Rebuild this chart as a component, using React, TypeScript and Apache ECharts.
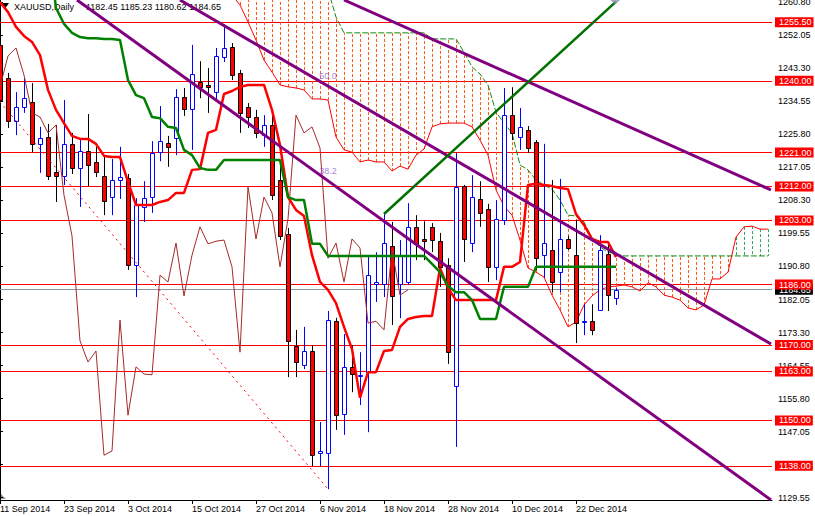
import React, { useEffect, useRef } from "react";
import * as echarts from "echarts";

const FONT = "'Liberation Sans', Arial, sans-serif";

// Daily XAUUSD bars, index 0 = 11 Sep 2014 ... index 77 = 30 Dec 2014
const opens = [
  1249.5, 1240.7, 1229.4, 1233.1, 1234.4, 1223.3, 1225.1, 1215.8, 1214.8, 1223.3,
  1216.9, 1221.4, 1218.5, 1214.8, 1209.2, 1213.7, 1214.2, 1191.2, 1206.6, 1209.2,
  1221.1, 1223.5, 1224.8, 1235.7, 1232.5, 1239.7, 1238.9, 1237.0, 1246.3, 1249.0,
  1242.1, 1233.1, 1230.4, 1225.6, 1228.3, 1213.7, 1199.4, 1169.7, 1164.7, 1168.4,
  1141.4, 1141.4, 1176.4, 1151.7, 1164.2, 1161.8, 1162.8, 1186.2, 1186.2, 1196.2,
  1186.2, 1186.7, 1201.3, 1198.1, 1201.3, 1197.5, 1191.2, 1159.1, 1212.1, 1197.0,
  1208.7, 1206.0, 1190.7, 1203.1, 1230.9, 1225.1, 1227.0, 1223.8, 1193.8, 1195.2,
  1189.3, 1198.1, 1193.8, 1176.1, 1176.4, 1179.3, 1194.1, 1182.45,
];
const highs = [
  1250.8, 1242.1, 1237.0, 1240.7, 1239.4, 1227.8, 1228.6, 1228.3, 1234.9, 1226.2,
  1224.6, 1231.2, 1222.5, 1219.8, 1219.3, 1222.5, 1215.3, 1208.9, 1213.4, 1224.0,
  1233.3, 1225.4, 1237.8, 1238.1, 1249.5, 1245.2, 1243.4, 1248.7, 1255.0, 1250.0,
  1242.9, 1234.1, 1232.3, 1230.9, 1230.9, 1217.7, 1201.0, 1174.0, 1174.8, 1170.0,
  1149.6, 1179.0, 1177.2, 1172.9, 1170.0, 1168.1, 1193.8, 1194.6, 1205.0, 1202.6,
  1197.8, 1207.6, 1204.4, 1202.8, 1202.3, 1199.7, 1193.0, 1220.9, 1212.4, 1215.0,
  1213.4, 1207.4, 1208.4, 1238.1, 1238.3, 1232.8, 1228.0, 1224.3, 1223.3, 1213.7,
  1214.0, 1198.9, 1203.1, 1180.8, 1180.8, 1199.1, 1197.3, 1185.23,
];
const lows = [
  1233.6, 1227.5, 1225.6, 1231.5, 1221.1, 1215.6, 1213.7, 1207.9, 1212.4, 1215.3,
  1206.6, 1212.1, 1214.5, 1204.4, 1204.4, 1208.7, 1189.9, 1182.7, 1202.6, 1205.0,
  1218.7, 1217.2, 1220.3, 1230.7, 1221.7, 1235.4, 1231.5, 1234.9, 1245.0, 1240.2,
  1226.2, 1227.5, 1224.8, 1222.5, 1208.4, 1197.8, 1161.5, 1161.5, 1163.6, 1137.9,
  1137.9, 1131.8, 1147.5, 1146.2, 1157.5, 1154.1, 1146.9, 1181.4, 1182.7, 1175.3,
  1177.1, 1185.9, 1192.5, 1192.5, 1194.6, 1185.4, 1165.0, 1143.0, 1192.0, 1194.6,
  1201.3, 1186.7, 1187.2, 1201.8, 1224.3, 1221.7, 1220.9, 1189.9, 1187.8, 1184.0,
  1184.0, 1195.2, 1170.5, 1172.6, 1172.6, 1179.0, 1179.0, 1180.62,
];
const closes = [
  1234.9, 1229.4, 1233.1, 1235.4, 1223.3, 1224.8, 1214.8, 1214.8, 1223.3, 1216.9,
  1221.4, 1217.7, 1215.8, 1208.2, 1213.7, 1214.5, 1191.2, 1207.1, 1208.9, 1220.9,
  1224.0, 1222.5, 1235.7, 1232.5, 1241.8, 1238.4, 1238.4, 1246.6, 1248.7, 1241.5,
  1231.5, 1230.4, 1226.2, 1228.3, 1209.7, 1198.9, 1171.1, 1165.5, 1168.4, 1140.8,
  1141.9, 1176.6, 1151.4, 1164.2, 1162.3, 1162.1, 1188.5, 1186.7, 1197.0, 1183.0,
  1193.8, 1201.3, 1196.8, 1197.5, 1197.8, 1190.7, 1168.1, 1211.9, 1198.1, 1209.2,
  1205.0, 1190.7, 1203.4, 1230.9, 1226.2, 1227.8, 1222.2, 1193.0, 1197.0, 1186.7,
  1198.1, 1195.7, 1175.8, 1176.3, 1174.0, 1195.2, 1183.2, 1184.65,
];

// Ichimoku lines
const tenkan = [
  1260.9, 1258.2, 1254.3, 1251.9, 1250.3, 1246.8, 1237.6, 1232.3, 1228.8, 1225.4,
  1224.6, 1224.6, 1223.3, 1220.1, 1219.8, 1219.8, 1213.2, 1207.1, 1207.1, 1207.1,
  1207.9, 1208.4, 1210.3, 1210.3, 1216.4, 1216.6, 1226.2, 1227.0, 1236.5, 1237.3,
  1238.4, 1238.9, 1238.9, 1238.9, 1232.3, 1223.0, 1209.2, 1205.8, 1204.2, 1193.8,
  1186.7, 1184.6, 1181.1, 1174.8, 1168.9, 1156.0, 1162.8, 1162.8, 1168.4, 1168.7,
  1174.8, 1176.9, 1177.4, 1177.7, 1177.7, 1190.4, 1185.1, 1181.9, 1181.9, 1181.9,
  1181.9, 1181.9, 1181.9, 1190.7, 1190.7, 1192.0, 1212.4, 1212.7, 1212.4, 1212.1,
  1211.6, 1211.3, 1204.7, 1201.8, 1198.1, 1197.3, 1197.3, 1193.3,
];
const kijun = [
  1279, 1279, 1279, 1279, 1279, 1279, 1276, 1259.3, 1255.1, 1252.7,
  1251.6, 1251.3, 1251.3, 1251.1, 1251.1, 1250.8, 1240.2, 1236.2, 1235.4, 1230.4,
  1230.1, 1227.8, 1227.5, 1221.7, 1220.3, 1216.9, 1216.4, 1216.4, 1219.0, 1219.0,
  1219.0, 1219.0, 1219.0, 1219.0, 1219.0, 1219.0, 1209.2, 1208.4, 1208.4, 1196.8,
  1196.8, 1193.6, 1193.6, 1193.6, 1193.6, 1193.6, 1193.6, 1193.6, 1193.6, 1193.6,
  1193.6, 1193.6, 1193.6, 1193.6, 1191.5, 1189.3, 1185.6, 1184.0, 1184.0, 1181.9,
  1176.9, 1176.9, 1176.9, 1185.4, 1185.4, 1185.4, 1185.4, 1190.7, 1190.7, 1190.7,
  1190.7, 1190.7, 1190.7, 1190.7, 1190.7, 1190.7, 1190.7, 1190.7,
];
const chikouShift = 26;
const spanStart = 29; // first bar index of the spans below
const spanA = [
  1262.7, 1260.1, 1255.6, 1250.8, 1245.5, 1242.3, 1238.9, 1238.4, 1238.1, 1237.6,
  1235.2, 1235.2, 1234.9, 1225.1, 1221.7, 1221.1, 1218.5, 1219.0, 1218.5, 1218.5,
  1216.1, 1217.4, 1216.6, 1220.3, 1221.9, 1227.8, 1228.6, 1228.8, 1228.8, 1228.8,
  1227.8, 1224.3, 1220.3, 1211.1, 1206.8, 1204.4, 1197.8, 1190.4, 1189.3, 1188.0,
  1183.2, 1179.3, 1174.8, 1176.1, 1180.6, 1183.0, 1184.6, 1185.4, 1185.6, 1185.9,
  1185.4, 1184.3, 1186.5, 1185.4, 1183.2, 1182.7, 1181.9, 1179.8, 1179.3, 1180.6,
  1187.5, 1187.5, 1189.3, 1198.6, 1201.3, 1201.5, 1200.7, 1200.7,
];
const spanB = [
  1270, 1270, 1270, 1270, 1270, 1270, 1270, 1270, 1270, 1270,
  1270, 1270, 1264.1, 1256.9, 1252.7, 1252.7, 1252.7, 1252.7, 1252.7, 1252.7,
  1252.7, 1252.7, 1252.7, 1252.7, 1252.7, 1251.1, 1251.1, 1251.1, 1251.1, 1247.6,
  1243.7, 1241.8, 1238.9, 1231.7, 1228.8, 1226.2, 1217.7, 1216.4, 1213.7, 1212.4,
  1211.3, 1208.4, 1204.4, 1204.2, 1202.6, 1198.4, 1196.0, 1194.6, 1194.1, 1193.6,
  1193.6, 1193.6, 1193.6, 1193.6, 1193.6, 1193.6, 1193.6, 1193.6, 1193.6, 1193.6,
  1193.6, 1193.6, 1193.6, 1193.6, 1193.6, 1193.6, 1193.6, 1193.6,
];

// Horizontal levels and price line
const levels = [1255.5, 1240.0, 1221.0, 1212.0, 1203.0, 1186.0, 1170.0, 1163.0, 1150.0, 1138.0];
const bidPrice = 1184.65;

// Axis ticks
const yTicks = [
  1260.8, 1252.05, 1243.3, 1234.55, 1225.8, 1217.05, 1208.3, 1199.55,
  1190.8, 1182.05, 1173.3, 1164.55, 1155.8, 1147.05, 1138.3, 1129.55,
];
const xTickIdx = [0, 8, 16, 24, 32, 40, 48, 56, 64, 72];
const xTickLabels = [
  "11 Sep 2014", "23 Sep 2014", "3 Oct 2014", "15 Oct 2014", "27 Oct 2014",
  "6 Nov 2014", "18 Nov 2014", "28 Nov 2014", "10 Dec 2014", "22 Dec 2014",
];

// Drawn objects: [barIndex, price] endpoints
const purpleLines = [
  [[9.625, 1261.41], [96.375, 1128.93]],
  [[22.5, 1261.41], [96.375, 1170.26]],
  [[43, 1261.41], [96.375, 1211.07]],
];
const greenLine = [[48, 1204.7], [77, 1261.0]];
const fibLine = [[-1, 1236.9], [41, 1131.84]];
const fibLabels = [[41, 1239.6, "50.0"], [41, 1214.4, "38.2"]];
const headerSymbol = "XAUUSD,Daily";
const headerOHLC = "1182.45 1185.23 1180.62 1184.65";

export default function App() {
  const ref = useRef<HTMLDivElement>(null);
  useEffect(() => {
    document.body.style.margin = "0";
    const chart = echarts.init(ref.current as HTMLDivElement, undefined, { renderer: "svg" });

    const candleData = opens.map((o, k) => [k, o, closes[k], lows[k], highs[k]]);
    const chikou = closes.slice(chikouShift).map((c, k) => [k, c]);
    const cloudData = spanA.map((a, i) => [spanStart + i, a, spanB[i]]);
    const spanAData = spanA.map((a, i) => [spanStart + i, a]);
    const spanBData = spanB.map((b, i) => [spanStart + i, b]);

    const lbl = (bg: string) => ({
      show: true,
      position: "end",
      distance: 3,
      backgroundColor: bg,
      color: "#ffffff",
      fontSize: 9,
      fontFamily: FONT,
      padding: [1, 2, 0, 4],
      lineHeight: 9,
    });

    const markData: any[] = [
      {
        yAxis: bidPrice,
        lineStyle: { color: "#8a97a6", width: 1, type: "solid" },
        label: { ...lbl("#000000"), formatter: bidPrice.toFixed(2) },
      },
      ...levels.map((v) => ({
        yAxis: v,
        lineStyle: { color: "#ff0000", width: 1, type: "solid" },
        label: { ...lbl("#ff0000"), formatter: v.toFixed(2) },
      })),
    ];

    const lineSeries = (data: any, color: string, width: number, z: number, type: any = "solid") => ({
      type: "line",
      data,
      symbol: "none",
      silent: true,
      z,
      clip: true,
      lineStyle: { color, width, type },
    });

    const option: any = {
      animation: false,
      backgroundColor: "#ffffff",
      textStyle: { fontFamily: FONT },
      grid: { left: 0, top: 0, width: 772, height: 500, outerBoundsMode: "none" },
      xAxis: {
        type: "value",
        min: 0,
        max: 96.5,
        axisLine: { show: true, lineStyle: { color: "#000000", width: 1 } },
        axisTick: { show: true, customValues: xTickIdx, length: 4, lineStyle: { color: "#000000" } },
        axisLabel: {
          customValues: xTickIdx,
          formatter: (v: number) => xTickLabels[xTickIdx.indexOf(Math.round(v))] || "",
          align: "left",
          margin: 4,
          fontSize: 9,
          fontFamily: FONT,
          color: "#000000",
        },
        splitLine: { show: false },
      },
      yAxis: {
        type: "value",
        position: "right",
        min: 1128.93,
        max: 1261.41,
        axisLine: { show: true, lineStyle: { color: "#000000", width: 1 } },
        axisTick: { show: true, customValues: yTicks, length: 3, lineStyle: { color: "#000000" } },
        axisLabel: {
          customValues: yTicks,
          formatter: (v: number) => v.toFixed(2),
          margin: 6,
          fontSize: 9,
          fontFamily: FONT,
          color: "#000000",
        },
        splitLine: { show: false },
      },
      graphic: [
        { type: "polygon", shape: { points: [[2, 3], [9, 3], [5.5, 8]] }, style: { fill: "#000000" } },
        { type: "text", x: 14, y: 7, style: { text: headerSymbol, fontSize: 9, fontFamily: FONT, fill: "#000000", verticalAlign: "middle" } },
        { type: "text", x: 86, y: 7, style: { text: headerOHLC, fontSize: 9, fontFamily: FONT, fill: "#000000", verticalAlign: "middle" } },
        { type: "polygon", shape: { points: [[0, 493], [6, 499], [0, 499]] }, style: { fill: "#8a97a6" } },
      ],
      series: [
        {
          type: "line",
          data: [],
          silent: true,
          clip: false,
          markLine: {
            silent: true,
            z: 1,
            symbol: ["none", "none"],
            data: markData,
          },
        },
        {
          type: "custom",
          data: cloudData,
          clip: true,
          silent: true,
          z: 2,
          encode: { x: 0, y: [1, 2] },
          renderItem: (_p: any, api: any) => {
            const k = api.value(0);
            const a = api.value(1);
            const b = api.value(2);
            const pa = api.coord([k, a]);
            const pb = api.coord([k, b]);
            const x = Math.round(pa[0]) + 0.5;
            return {
              type: "line",
              shape: { x1: x, y1: pa[1], x2: x, y2: pb[1] },
              style: { stroke: a < b ? "#ff5a14" : "#2ea85a", lineWidth: 1, lineDash: [3, 2] },
            };
          },
        },
        lineSeries(spanAData, "#ff0000", 1, 3),
        lineSeries(spanBData, "#118a11", 1, 3, [6, 2]),
        {
          type: "custom",
          data: candleData,
          clip: true,
          silent: true,
          z: 4,
          encode: { x: 0, y: [1, 2, 3, 4] },
          renderItem: (_p: any, api: any) => {
            const k = api.value(0);
            const o = api.value(1);
            const c = api.value(2);
            const l = api.value(3);
            const h = api.value(4);
            const pO = api.coord([k, o]);
            const pC = api.coord([k, c]);
            const pL = api.coord([k, l]);
            const pH = api.coord([k, h]);
            const cx = Math.round(pO[0]) + 0.5;
            const bull = c >= o;
            const col = bull ? "#0000ff" : "#000000";
            const top = Math.round(Math.min(pO[1], pC[1])) + 0.5;
            let hgt = Math.round(Math.abs(pO[1] - pC[1]));
            if (hgt < 1) hgt = 1;
            return {
              type: "group",
              children: [
                { type: "line", shape: { x1: cx, y1: pH[1], x2: cx, y2: pL[1] }, style: { stroke: col, lineWidth: 1 } },
                {
                  type: "rect",
                  shape: { x: cx - 2, y: top, width: 4, height: hgt },
                  style: { fill: bull ? "#ffffff" : "#ff0000", stroke: col, lineWidth: 1 },
                },
              ],
            };
          },
        },
        lineSeries(chikou, "#a52a2a", 1, 5),
        lineSeries(tenkan.map((v, k) => [k, v]), "#ff0000", 2.5, 6),
        lineSeries(kijun.map((v, k) => [k, v]), "#008000", 2.5, 6),
        lineSeries(fibLine, "#ff0000", 1, 7, [2, 4]),
        ...purpleLines.map((pts) => lineSeries(pts, "#800080", 3, 7)),
        lineSeries(greenLine, "#007000", 2.5, 7),
        {
          type: "scatter",
          data: [[76.9, 1261.3]],
          symbol: "diamond",
          symbolSize: [9, 8],
          itemStyle: { color: "#8a97a6" },
          silent: true,
          z: 8,
        },
        {
          type: "scatter",
          data: fibLabels,
          symbolSize: 0,
          silent: true,
          z: 8,
          itemStyle: { color: "transparent" },
          label: {
            show: true,
            position: "top",
            distance: 2,
            formatter: (p: any) => p.data[2],
            color: "#9060d0",
            fontSize: 9,
            fontFamily: FONT,
          },
        },
      ],
    };

    chart.setOption(option);
    return () => chart.dispose();
  }, []);
  return <div ref={ref} style={{ width: 815, height: 516 }} />;
}
